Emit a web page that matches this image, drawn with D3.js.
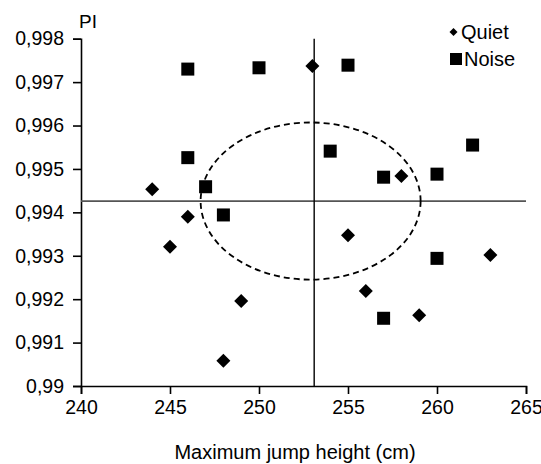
<!DOCTYPE html>
<html>
<head>
<meta charset="utf-8">
<script src="https://cdn.jsdelivr.net/npm/d3@7"></script>
<style>
  body { margin: 0; background: #fff; }
  text { font-family: "Liberation Sans", Arial, sans-serif; fill: #000; }
</style>
</head>
<body>
<svg id="chart"></svg>
<script>
// data
const quietX = [244, 246, 245, 249, 248, 253, 258, 255, 256, 259, 263];
const quietY = [0.99453, 0.99390, 0.99321, 0.99196, 0.99058, 0.99737, 0.99484, 0.99347, 0.99219, 0.99163, 0.99302];
const noiseX = [246, 250, 246, 247, 248, 255, 254, 257, 260, 262, 260, 257];
const noiseY = [0.99730, 0.99733, 0.99526, 0.99459, 0.99394, 0.99739, 0.99541, 0.99481, 0.99488, 0.99555, 0.99294, 0.99156];
const xTicks = [240, 245, 250, 255, 260, 265];
const yTicks = [0.99, 0.991, 0.992, 0.993, 0.994, 0.995, 0.996, 0.997, 0.998];
const meanX = 253.1;
const meanY = 0.99426;
// dashed ellipse: centre and radii in data units
const ellipseC = [252.9, 0.99426];
const ellipseR = [6.18, 0.00181];
const seriesNames = ['Quiet', 'Noise'];

const width = 541, height = 464;
const margin = { top: 38.7, right: 15, bottom: 78, left: 81 };

const svg = d3.select('#chart').attr('width', width).attr('height', height);

const x = d3.scaleLinear().domain([240, 265]).range([margin.left, width - margin.right]);
const y = d3.scaleLinear().domain([0.99, 0.998]).range([height - margin.bottom, margin.top]);

const fmt = d => String(+d.toFixed(3)).replace('.', ',');

// eixos
const gx = svg.append('g')
  .attr('transform', `translate(0,${y(0.99)})`)
  .call(d3.axisBottom(x).tickValues(xTicks).tickSize(8).tickPadding(6));
const gy = svg.append('g')
  .attr('transform', `translate(${x(240)},0)`)
  .call(d3.axisLeft(y).tickValues(yTicks).tickFormat(fmt).tickSize(8).tickPadding(9));

[gx, gy].forEach(g => {
  g.select('.domain').attr('stroke', '#000').attr('stroke-width', 1.6);
  g.selectAll('.tick line').attr('stroke', '#000').attr('stroke-width', 1.6);
  g.selectAll('.tick text').attr('font-size', 19.5).attr('font-family', '"Liberation Sans", Arial, sans-serif');
});

// reference lines
svg.append('line')
  .attr('x1', x(240)).attr('x2', x(265))
  .attr('y1', y(meanY)).attr('y2', y(meanY))
  .attr('stroke', '#555').attr('stroke-width', 1.8);
svg.append('line')
  .attr('x1', x(meanX)).attr('x2', x(meanX))
  .attr('y1', y(0.998)).attr('y2', y(0.99))
  .attr('stroke', '#000').attr('stroke-width', 1.4);

// dashed ellipse
svg.append('ellipse')
  .attr('cx', x(ellipseC[0])).attr('cy', y(ellipseC[1]))
  .attr('rx', x(ellipseC[0] + ellipseR[0]) - x(ellipseC[0]))
  .attr('ry', y(ellipseC[1]) - y(ellipseC[1] + ellipseR[1]))
  .attr('fill', 'none').attr('stroke', '#000')
  .attr('stroke-width', 1.8).attr('stroke-dasharray', '6,4');

// markers
const diamond = s => `M0,${-s}L${s},0L0,${s}L${-s},0Z`;

svg.append('g').selectAll('rect')
  .data(noiseX.map((v, i) => [v, noiseY[i]]))
  .join('rect')
  .attr('x', d => x(d[0]) - 6.5).attr('y', d => y(d[1]) - 6.5)
  .attr('width', 13).attr('height', 13).attr('fill', '#000');

svg.append('g').selectAll('path')
  .data(quietX.map((v, i) => [v, quietY[i]]))
  .join('path')
  .attr('transform', d => `translate(${x(d[0])},${y(d[1])})`)
  .attr('d', diamond(7)).attr('fill', '#000');

// axis titles
svg.append('text').attr('x', 79).attr('y', 28).attr('font-size', 19).text('PI');
svg.append('text').attr('x', 295).attr('y', 459).attr('text-anchor', 'middle')
  .attr('font-size', 20).text('Maximum jump height (cm)');

// legend
const legend = svg.append('g');
legend.append('path').attr('transform', 'translate(453.5,32)').attr('d', diamond(4)).attr('fill', '#000');
legend.append('text').attr('x', 461).attr('y', 38.5).attr('font-size', 20).text(seriesNames[0]);
legend.append('rect').attr('x', 450).attr('y', 53).attr('width', 12).attr('height', 12).attr('fill', '#000');
legend.append('text').attr('x', 464).attr('y', 65.5).attr('font-size', 20).text(seriesNames[1]);
</script>
</body>
</html>
